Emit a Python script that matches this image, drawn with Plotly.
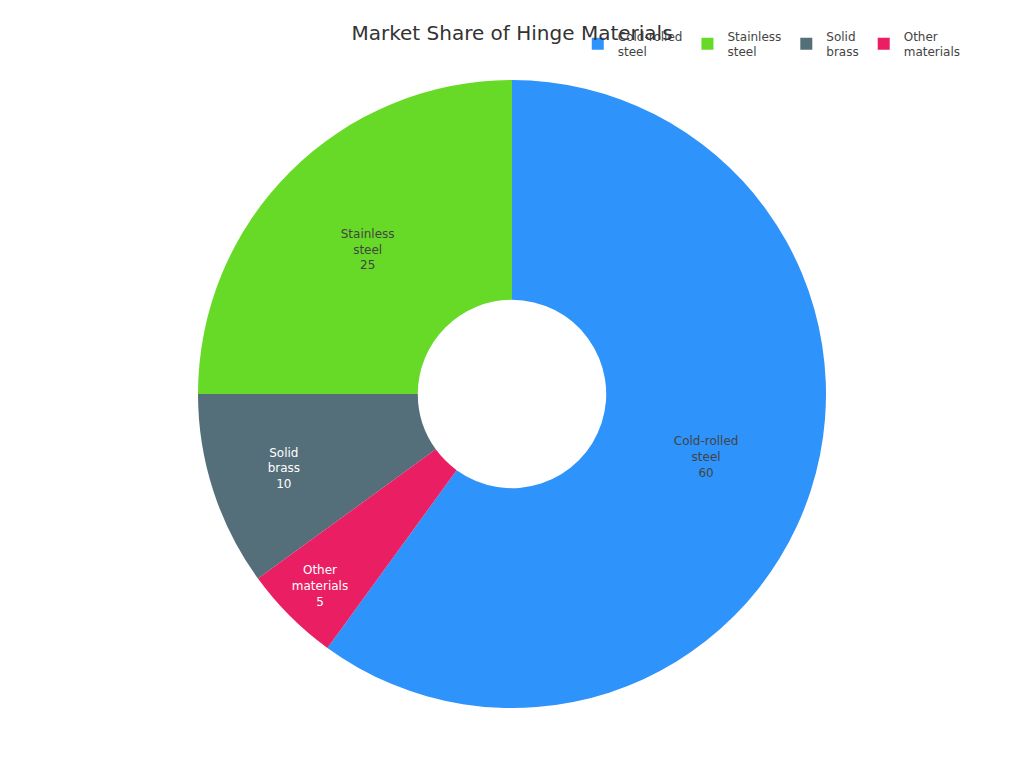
import plotly.graph_objects as go

labels = ["Cold-rolled<br>steel", "Stainless<br>steel", "Solid<br>brass", "Other<br>materials"]
values = [60, 25, 10, 5]
colors = ["#2E93FA", "#66DA26", "#546E7A", "#E91E63"]

fig = go.Figure(go.Pie(
    labels=labels,
    values=values,
    hole=0.3,
    sort=False,
    direction="counterclockwise",
    rotation=0,
    marker=dict(colors=colors),
    textinfo="label+value",
    textposition="inside",
    textfont=dict(size=12),
))

fig.update_layout(
    font=dict(family="DejaVu Sans", color="#444"),
    title=dict(text="Market Share of Hinge Materials", x=0.5, xanchor="center", y=0.977,
               font=dict(size=20, color="#333")),
    legend=dict(orientation="h", x=1.011, xanchor="right", y=1.093, yanchor="top",
                font=dict(size=12)),
    margin=dict(l=60, r=60, t=72, b=68, autoexpand=False),
    paper_bgcolor="white",
)

fig.write_html("out.html", default_width="100%", default_height="100vh")
